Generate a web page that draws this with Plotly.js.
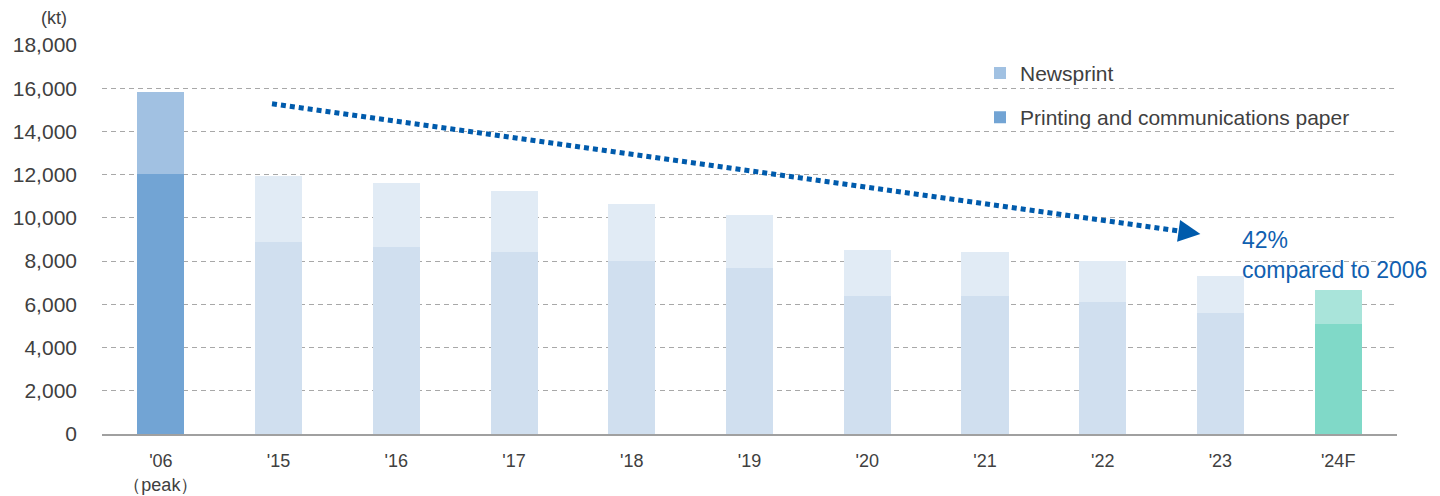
<!DOCTYPE html>
<html><head><meta charset="utf-8">
<script src="https://cdn.plot.ly/plotly-3.0.1.min.js"></script>
<style>html,body{margin:0;padding:0;background:#fff}#chart{width:1440px;height:496px}</style>
</head><body><div id="chart"></div>
<script>
const categories = ["'06<br>（peak）", "'15", "'16", "'17", "'18", "'19", "'20", "'21", "'22", "'23", "'24F"];
const printingPaper = [12030, 8890, 8670, 8430, 8010, 7690, 6390, 6390, 6110, 5600, 5090];
const newsprint = [3800, 3060, 2950, 2820, 2640, 2450, 2130, 2040, 1890, 1710, 1580];
const printingColors = ["#72A4D4", "#D0DFEF", "#D0DFEF", "#D0DFEF", "#D0DFEF", "#D0DFEF", "#D0DFEF", "#D0DFEF", "#D0DFEF", "#D0DFEF", "#80D9C8"];
const newsprintColors = ["#A1C1E2", "#E1EBF5", "#E1EBF5", "#E1EBF5", "#E1EBF5", "#E1EBF5", "#E1EBF5", "#E1EBF5", "#E1EBF5", "#E1EBF5", "#A9E4DA"];
const yTicks = [0, 2000, 4000, 6000, 8000, 10000, 12000, 14000, 16000, 18000];
const trendStart = {x: 0.944, y: 15280};
const trendEnd = {x: 8.83, y: 9260};
const noteText = "42%<br>compared to 2006";

const font = "Liberation Sans, Arial, Helvetica, sans-serif";
const traces = [
  {type: 'bar', name: 'Printing and communications paper', x: categories, y: printingPaper,
   marker: {color: printingColors}, width: 0.4, legendgroup: 'b', legendrank: 2, hoverinfo: 'skip'},
  {type: 'bar', name: 'Newsprint', x: categories, y: newsprint,
   marker: {color: newsprintColors}, width: 0.4, legendgroup: 'a', legendrank: 1, hoverinfo: 'skip'}
];
const plotW = 1440 - 102 - 43, plotH = 496 - 45 - 62;
const layout = {
  width: 1440, height: 496,
  margin: {l: 102, r: 43, t: 45, b: 62},
  paper_bgcolor: '#fff', plot_bgcolor: '#fff',
  barmode: 'stack',
  font: {family: font, color: '#404040'},
  showlegend: true,
  legend: {x: (980 - 102) / plotW, y: 0.98, xanchor: 'left', yanchor: 'top', traceorder: 'grouped',
    tracegroupgap: 14, font: {size: 21, color: '#404040'}, bgcolor: 'rgba(0,0,0,0)'},
  xaxis: {type: 'category', tickfont: {size: 18, color: '#404040'}, showline: true, linecolor: '#A0A0A0',
    linewidth: 1.5, ticks: '', showgrid: false, ticklabelstandoff: 10, fixedrange: true},
  yaxis: {range: [0, 18000], tickvals: yTicks, tickformat: ',d', tickfont: {size: 21, color: '#404040'},
    showgrid: true, gridcolor: '#A8A8A8', griddash: '5px,4px', gridwidth: 1, zeroline: false,
    ticklabelstandoff: 24, fixedrange: true},
  shapes: [{type: 'line', xref: 'x', yref: 'y', x0: trendStart.x, y0: trendStart.y,
    x1: trendEnd.x - 0.12, y1: trendEnd.y + 90, line: {color: '#005BAC', width: 5, dash: '5px,4px'}}],
  annotations: [
    {xref: 'x', yref: 'y', axref: 'x', ayref: 'y', x: trendEnd.x, y: trendEnd.y,
     ax: trendEnd.x - 0.14, ay: trendEnd.y + 105, text: '', showarrow: true, arrowhead: 2,
     arrowsize: 1.1, arrowwidth: 4, arrowcolor: '#005BAC'},
    {xref: 'paper', yref: 'paper', x: (1240 - 102) / plotW, y: (434 - 225) / plotH, xanchor: 'left', yanchor: 'top', align: 'left',
     text: noteText, showarrow: false, font: {size: 23, color: '#1060B0', family: font}},
    {xref: 'paper', yref: 'paper', x: (69 - 102) / plotW, y: (434 - 18) / plotH, xanchor: 'right', yanchor: 'middle',
     text: '(kt)', showarrow: false, font: {size: 18, color: '#404040', family: font}}
  ]
};
Plotly.newPlot('chart', traces, layout, {displayModeBar: false, staticPlot: true});
</script></body></html>
